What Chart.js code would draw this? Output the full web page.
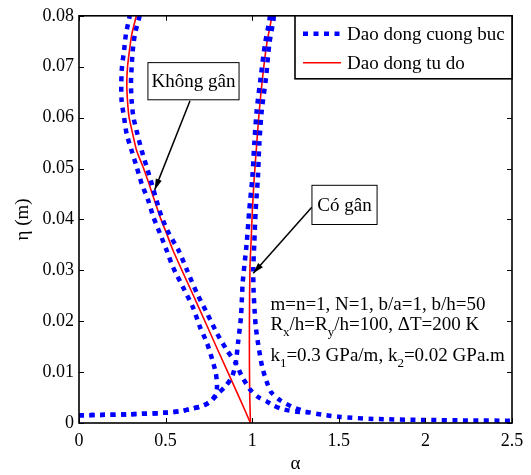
<!DOCTYPE html>
<html><head><meta charset="utf-8">
<script src="https://cdn.jsdelivr.net/npm/chart.js@4.4.1/dist/chart.umd.min.js"></script>
<style>html,body{margin:0;padding:0;background:#fff;}canvas{display:block;}</style>
</head><body>
<canvas id="c" width="531" height="475"></canvas>
<script>
// ---- axis ticks ----
const xTickValues = [0, 0.5, 1, 1.5, 2, 2.5];
const yTickValues = [0, 0.01, 0.02, 0.03, 0.04, 0.05, 0.06, 0.07, 0.08];

// ---- legend labels ----
const seriesNames = ['Dao dong cuong buc', 'Dao dong tu do'];

// ---- shared low-amplitude branch of forced vibration (alpha < 1) ----
const lowAlpha = [0, 0.15, 0.28, 0.49, 0.60, 0.66, 0.70, 0.74];
const lowEta   = [0.0015, 0.0016, 0.0017, 0.0020, 0.0024, 0.0029, 0.0032, 0.0038];

// ---- Khong gan (unstiffened) ----
const kgFreeAlpha = [0.99, 0.932, 0.802, 0.673, 0.543, 0.506, 0.468, 0.436, 0.404, 0.370, 0.333, 0.310, 0.289, 0.280, 0.276, 0.280, 0.291, 0.305, 0.329, 0.333];
const kgFreeEta   = [0, 0.0045, 0.0143, 0.0241, 0.0339, 0.0372, 0.0405, 0.0437, 0.0470, 0.0503, 0.0535, 0.0568, 0.0601, 0.0633, 0.0666, 0.0699, 0.0731, 0.0764, 0.0797, 0.0800];

const kgForcedLeftAlpha = [0.765, 0.785, 0.797, 0.790, 0.770, 0.739, 0.699, 0.658, 0.600, 0.543, 0.505, 0.468, 0.429, 0.400, 0.362, 0.333, 0.304, 0.275, 0.260, 0.246, 0.244, 0.248, 0.260, 0.271, 0.291, 0.293];
const kgForcedLeftEta   = [0.0044, 0.0054, 0.0071, 0.0098, 0.0124, 0.0157, 0.0188, 0.0227, 0.0267, 0.0306, 0.0340, 0.0372, 0.0405, 0.0437, 0.0470, 0.0503, 0.0535, 0.0568, 0.0601, 0.0633, 0.0666, 0.0699, 0.0731, 0.0764, 0.0797, 0.0800];

const kgForcedRightAlpha = [0.352, 0.348, 0.323, 0.310, 0.304, 0.300, 0.304, 0.314, 0.337, 0.362, 0.391, 0.420, 0.448, 0.477, 0.520, 0.575, 0.624, 0.681, 0.739, 0.797, 0.854, 0.905, 0.940, 0.987, 1.030, 1.085, 1.120, 1.178, 1.260, 1.330];
const kgForcedRightEta   = [0.0800, 0.0797, 0.0764, 0.0731, 0.0699, 0.0666, 0.0633, 0.0601, 0.0568, 0.0535, 0.0503, 0.0470, 0.0437, 0.0405, 0.0372, 0.0339, 0.0300, 0.0255, 0.0216, 0.0176, 0.0143, 0.0118, 0.0092, 0.0066, 0.0052, 0.0042, 0.0035, 0.0027, 0.0022, 0.0021];

// ---- Co gan (stiffened) ----
const cgFreeAlpha = [0.99, 0.986, 0.984, 0.984, 0.987, 0.993, 1.001, 1.012, 1.026, 1.041, 1.060, 1.084, 1.109, 1.113];
const cgFreeEta   = [0, 0.005, 0.012, 0.020, 0.0306, 0.0352, 0.0418, 0.0483, 0.0548, 0.0614, 0.0679, 0.0745, 0.0790, 0.0800];

const cgForcedLeftAlpha = [0.770, 0.810, 0.850, 0.885, 0.905, 0.918, 0.935, 0.945, 0.955, 0.968, 0.983, 1.001, 1.012, 1.026, 1.049, 1.074, 1.099, 1.102];
const cgForcedLeftEta   = [0.0046, 0.0060, 0.0074, 0.0092, 0.0118, 0.0157, 0.0208, 0.0275, 0.0310, 0.0352, 0.0418, 0.0483, 0.0548, 0.0614, 0.0679, 0.0745, 0.0790, 0.0800];

const cgForcedRightAlpha = [1.125, 1.122, 1.099, 1.080, 1.055, 1.041, 1.033, 1.020, 1.012, 1.006, 1.008, 1.014, 1.022, 1.040, 1.060, 1.090, 1.110, 1.160, 1.236, 1.316, 1.410, 1.507, 1.700, 2.000, 2.250, 2.500];
const cgForcedRightEta   = [0.0800, 0.0790, 0.0745, 0.0679, 0.0614, 0.0548, 0.0483, 0.0418, 0.0352, 0.0300, 0.0260, 0.0220, 0.0185, 0.0143, 0.0107, 0.0075, 0.0060, 0.0045, 0.0031, 0.0022, 0.0016, 0.0012, 0.0008, 0.0006, 0.0005, 0.00045];

// ---- helpers ----
const zip = (xs, ys) => xs.map((v, i) => ({x: v, y: ys[i]}));
const SERIF = '"Liberation Serif", "Times New Roman", serif';
const BLUE = '#0000ff', RED = '#ff0000';

const forcedStyle = {borderColor: BLUE, backgroundColor: BLUE, borderWidth: 4.5, borderDash: [5, 5.5], borderCapStyle: 'butt'};
const freeStyle = {borderColor: RED, backgroundColor: RED, borderWidth: 1.6};

const datasets = [
  Object.assign({label: seriesNames[0], data: zip(lowAlpha.concat(kgForcedLeftAlpha), lowEta.concat(kgForcedLeftEta))}, forcedStyle),
  Object.assign({label: seriesNames[0], data: zip(kgForcedRightAlpha, kgForcedRightEta)}, forcedStyle),
  Object.assign({label: seriesNames[0], data: zip(lowAlpha.concat(cgForcedLeftAlpha), lowEta.concat(cgForcedLeftEta))}, forcedStyle),
  Object.assign({label: seriesNames[0], data: zip(cgForcedRightAlpha, cgForcedRightEta)}, forcedStyle),
  Object.assign({label: seriesNames[1], data: zip(kgFreeAlpha, kgFreeEta)}, freeStyle),
  Object.assign({label: seriesNames[1], data: zip(cgFreeAlpha, cgFreeEta)}, freeStyle)
];
datasets.forEach(d => { d.showLine = true; d.pointRadius = 0; d.tension = 0.25; d.fill = false; });

// ---- annotations (data coordinates) ----
const noteKG = {text: 'Không gân', box: [0.398, 0.0708, 0.924, 0.0635], from: [0.641, 0.0633], to: [0.437, 0.0458]};
const noteCG = {text: 'Có gân', box: [1.345, 0.0467, 1.721, 0.0390], from: [1.344, 0.0424], to: [1.006, 0.0294]};
const paramLines = [
  [{t: 'm=n=1, N=1, b/a=1, b/h=50'}],
  [{t: 'R'}, {t: 'x', sub: true}, {t: '/h=R'}, {t: 'y', sub: true}, {t: '/h=100, ΔT=200 K'}],
  [{t: 'k'}, {t: '1', sub: true}, {t: '=0.3 GPa/m, k'}, {t: '2', sub: true}, {t: '=0.02 GPa.m'}]
];
const paramPos = {alpha: 1.105, eta: [0.0222, 0.0182, 0.0121]};

function arrow(ctx, x1, y1, x2, y2) {
  ctx.beginPath(); ctx.moveTo(x1, y1); ctx.lineTo(x2, y2); ctx.stroke();
  const ang = Math.atan2(y2 - y1, x2 - x1), L = 11, W = 3.2;
  const bx = x2 - L * Math.cos(ang), by = y2 - L * Math.sin(ang);
  ctx.beginPath();
  ctx.moveTo(x2, y2);
  ctx.lineTo(bx + W * Math.sin(ang), by - W * Math.cos(ang));
  ctx.lineTo(bx - W * Math.sin(ang), by + W * Math.cos(ang));
  ctx.closePath(); ctx.fill();
}

const decor = {
  id: 'decor',
  afterDatasetsDraw(chart) {
    const {ctx, chartArea: a, scales: {x, y}} = chart;
    ctx.save();
    ctx.strokeStyle = '#000'; ctx.fillStyle = '#000';
    // ticks (inward, all four sides)
    ctx.lineWidth = 1;
    const tl = 5;
    xTickValues.forEach(v => {
      const px = Math.round(x.getPixelForValue(v)) + 0.5;
      ctx.beginPath(); ctx.moveTo(px, a.bottom); ctx.lineTo(px, a.bottom - tl);
      ctx.moveTo(px, a.top); ctx.lineTo(px, a.top + tl); ctx.stroke();
    });
    yTickValues.forEach(v => {
      const py = Math.round(y.getPixelForValue(v)) + 0.5;
      ctx.beginPath(); ctx.moveTo(a.left, py); ctx.lineTo(a.left + tl, py);
      ctx.moveTo(a.right, py); ctx.lineTo(a.right - tl, py); ctx.stroke();
    });
    // box
    ctx.lineWidth = 1.6;
    ctx.strokeRect(a.left, a.top, a.right - a.left, a.bottom - a.top);

    // annotation boxes with arrows
    ctx.font = '19px ' + SERIF;
    [noteKG, noteCG].forEach(n => {
      ctx.lineWidth = 1.5;
      arrow(ctx, x.getPixelForValue(n.from[0]), y.getPixelForValue(n.from[1]), x.getPixelForValue(n.to[0]), y.getPixelForValue(n.to[1]));
      const bx1 = x.getPixelForValue(n.box[0]), by1 = y.getPixelForValue(n.box[1]);
      const bx2 = x.getPixelForValue(n.box[2]), by2 = y.getPixelForValue(n.box[3]);
      ctx.fillStyle = '#fff'; ctx.fillRect(bx1, by1, bx2 - bx1, by2 - by1);
      ctx.lineWidth = 1; ctx.strokeRect(bx1, by1, bx2 - bx1, by2 - by1);
      ctx.fillStyle = '#000'; ctx.textAlign = 'center'; ctx.textBaseline = 'middle';
      ctx.fillText(n.text, (bx1 + bx2) / 2, (by1 + by2) / 2 + 1);
    });

    // parameter text block
    ctx.textAlign = 'left'; ctx.textBaseline = 'alphabetic';
    paramLines.forEach((parts, i) => {
      let px = x.getPixelForValue(paramPos.alpha);
      const py = y.getPixelForValue(paramPos.eta[i]);
      parts.forEach(p => {
        ctx.font = (p.sub ? '13px ' : '19px ') + SERIF;
        ctx.fillText(p.t, px, py + (p.sub ? 6 : 0));
        px += ctx.measureText(p.t).width;
      });
    });

    // legend box (top right, inside axes)
    const lw = 217, lh = 63;
    const lx = a.right - lw, ly = a.top;
    ctx.fillStyle = '#fff'; ctx.fillRect(lx, ly, lw, lh);
    ctx.strokeStyle = '#000'; ctx.lineWidth = 1.6; ctx.strokeRect(lx, ly, lw, lh);
    const rows = [{s: forcedStyle, y: ly + 18}, {s: freeStyle, y: ly + 47}];
    rows.forEach((r, i) => {
      ctx.save();
      ctx.strokeStyle = r.s.borderColor; ctx.lineWidth = r.s.borderWidth;
      ctx.setLineDash(r.s.borderDash || []); ctx.lineCap = 'butt';
      ctx.beginPath(); ctx.moveTo(lx + 8, r.y); ctx.lineTo(lx + 46, r.y); ctx.stroke();
      ctx.restore();
      ctx.fillStyle = '#000'; ctx.font = '19px ' + SERIF;
      ctx.textAlign = 'left'; ctx.textBaseline = 'middle';
      ctx.fillText(seriesNames[i], lx + 52, r.y + 1);
    });
    ctx.restore();
  }
};

new Chart(document.getElementById('c'), {
  type: 'scatter',
  data: {datasets},
  options: {
    responsive: false,
    animation: false,
    events: [],
    layout: {padding: {left: 0, right: 19, top: 15, bottom: 0}},
    scales: {
      x: {
        type: 'linear', min: 0, max: 2.5,
        afterBuildTicks: s => { s.ticks = xTickValues.map(v => ({value: v})); },
        ticks: {color: '#000', font: {family: SERIF, size: 18}, padding: 7, maxRotation: 0, callback: v => String(+v.toFixed(1))},
        grid: {display: false, drawTicks: false},
        border: {display: false},
        title: {display: true, text: 'α', color: '#000', font: {family: SERIF, size: 19}, padding: {top: 0, bottom: 0}},
        afterFit: s => { s.height = 52; }
      },
      y: {
        type: 'linear', min: 0, max: 0.08,
        afterBuildTicks: s => { s.ticks = yTickValues.map(v => ({value: v})); },
        ticks: {color: '#000', font: {family: SERIF, size: 18}, padding: 5, callback: v => String(+v.toFixed(2))},
        grid: {display: false, drawTicks: false},
        border: {display: false},
        title: {display: true, text: 'η (m)', color: '#000', font: {family: SERIF, size: 19}, padding: {top: 12, bottom: 0}},
        afterFit: s => { s.width = 79; }
      }
    },
    plugins: {legend: {display: false}, tooltip: {enabled: false}}
  },
  plugins: [decor]
});
</script>
</body></html>
